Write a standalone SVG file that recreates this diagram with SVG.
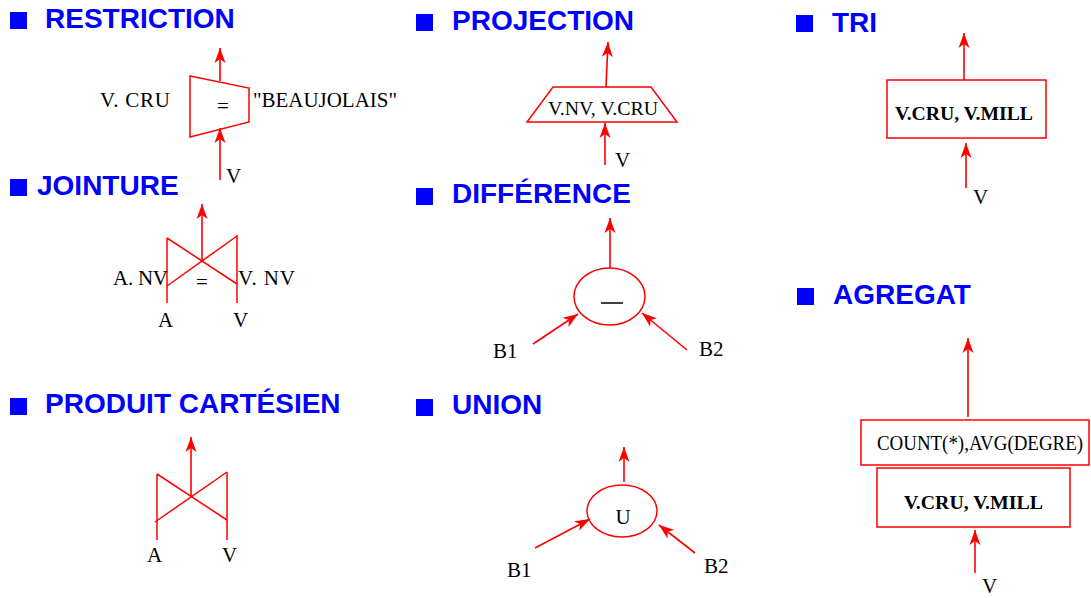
<svg xmlns="http://www.w3.org/2000/svg" width="1091" height="598" viewBox="0 0 1091 598">
<style>
.title{font-family:"Liberation Sans",Arial,sans-serif;font-weight:bold;font-size:28px;fill:#0000ff}
.bul{fill:#0000ff}
.lbl{font-family:"Liberation Serif","Times New Roman",serif;font-size:21px;fill:#000}
.sm{font-size:19px}
.bd{font-weight:bold;font-size:19.5px}
.shp{fill:none;stroke:#ff0000;stroke-width:1.5}
.con{fill:none;stroke:#ff0000;stroke-width:1.6;marker-end:url(#ah)}
</style>
<defs>
<marker id="ah" markerUnits="userSpaceOnUse" markerWidth="20" markerHeight="14" viewBox="-16 -7 18 14" refX="0" refY="0" orient="auto">
<path d="M0,0 L-15,-5.5 L-11,0 L-15,5.5 Z" fill="#ff0000"/>
</marker>
</defs>
<rect width="1091" height="598" fill="#fff"/>

<g id="titles">
<rect class="bul" x="10" y="12" width="17" height="17"/><text class="title" x="45" y="28">RESTRICTION</text>
<rect class="bul" x="10" y="179" width="17" height="17"/><text class="title" x="37" y="195">JOINTURE</text>
<rect class="bul" x="10" y="398" width="17" height="17"/><text class="title" x="45" y="413">PRODUIT CARTÉSIEN</text>
<rect class="bul" x="416" y="14" width="17" height="17"/><text class="title" x="452" y="30">PROJECTION</text>
<rect class="bul" x="416" y="188" width="17" height="17"/><text class="title" x="452" y="203">DIFFÉRENCE</text>
<rect class="bul" x="416" y="399" width="17" height="17"/><text class="title" x="452" y="414">UNION</text>
<rect class="bul" x="796" y="15" width="17" height="17"/><text class="title" x="832" y="32">TRI</text>
<rect class="bul" x="797" y="288" width="17" height="17"/><text class="title" x="833" y="304">AGREGAT</text>
</g>

<g id="restriction">
<polygon class="shp" points="190,76 249,88 249,122 190,137"/>
<text class="lbl" x="223" y="113" text-anchor="middle">=</text>
<text class="lbl" x="100" y="107" textLength="70" lengthAdjust="spacing">V. CRU</text>
<text class="lbl" x="253" y="107" textLength="144" lengthAdjust="spacingAndGlyphs">"BEAUJOLAIS"</text>
<text class="lbl" x="226" y="183">V</text>
</g>

<g id="jointure">
<line class="shp" x1="167" y1="238" x2="167" y2="303"/>
<line class="shp" x1="237" y1="235" x2="237" y2="303"/>
<line class="shp" x1="167" y1="238" x2="237" y2="284"/>
<line class="shp" x1="167" y1="286" x2="237" y2="236"/>
<text class="lbl" x="113" y="285" textLength="55" lengthAdjust="spacing">A. NV</text>
<text class="lbl" x="202" y="289" text-anchor="middle">=</text>
<text class="lbl" x="238" y="285" textLength="57" lengthAdjust="spacing">V. NV</text>
<text class="lbl" x="158" y="327">A</text>
<text class="lbl" x="233" y="327">V</text>
</g>

<g id="produit">
<line class="shp" x1="157" y1="474" x2="157" y2="540"/>
<line class="shp" x1="227" y1="472" x2="227" y2="540"/>
<line class="shp" x1="157" y1="474" x2="227" y2="520"/>
<line class="shp" x1="155" y1="522" x2="227" y2="472"/>
<text class="lbl" x="147" y="562">A</text>
<text class="lbl" x="222" y="562">V</text>
</g>

<g id="projection">
<polygon class="shp" points="553,87 651,87 677,122 527,122"/>
<text class="lbl sm" x="548" y="115" textLength="110" lengthAdjust="spacingAndGlyphs">V.NV, V.CRU</text>
<text class="lbl" x="615" y="167">V</text>
</g>

<g id="difference">
<ellipse class="shp" cx="609.5" cy="296.5" rx="35.5" ry="28.5"/>
<line x1="601" y1="303" x2="623" y2="303" stroke="#000" stroke-width="1.5"/>
<text class="lbl" x="493" y="358">B1</text>
<text class="lbl" x="699" y="356">B2</text>
</g>

<g id="union">
<ellipse class="shp" cx="622" cy="511" rx="35" ry="26"/>
<text class="lbl" x="623" y="524" text-anchor="middle">U</text>
<text class="lbl" x="507" y="577">B1</text>
<text class="lbl" x="704" y="573">B2</text>
</g>

<g id="tri">
<rect class="shp" x="887" y="80" width="159" height="58"/>
<text class="lbl bd" x="895" y="120" textLength="138" lengthAdjust="spacingAndGlyphs">V.CRU, V.MILL</text>
<text class="lbl" x="973" y="204">V</text>
</g>

<g id="agregat">
<rect class="shp" x="861" y="420" width="228" height="45"/>
<text class="lbl" x="877" y="450" font-size="18" textLength="206" lengthAdjust="spacingAndGlyphs">COUNT(*),AVG(DEGRE)</text>
<rect class="shp" x="877" y="468" width="193" height="59"/>
<text class="lbl bd" x="904" y="509" textLength="139" lengthAdjust="spacingAndGlyphs">V.CRU, V.MILL</text>
<text class="lbl" x="982" y="593">V</text>
</g>

<g id="connectors">
<line class="con" x1="220" y1="81" x2="220" y2="48"/>
<line class="con" x1="220" y1="180" x2="220" y2="128"/>
<line class="con" x1="202" y1="260" x2="202" y2="204"/>
<line class="con" x1="191" y1="496" x2="191" y2="437"/>
<line class="con" x1="606" y1="87" x2="608" y2="42"/>
<line class="con" x1="605" y1="165" x2="605" y2="123"/>
<line class="con" x1="610" y1="268" x2="610" y2="218"/>
<line class="con" x1="533" y1="344" x2="578" y2="314"/>
<line class="con" x1="687" y1="350" x2="642" y2="313"/>
<line class="con" x1="624" y1="482" x2="624" y2="447"/>
<line class="con" x1="535" y1="548" x2="590" y2="519"/>
<line class="con" x1="695" y1="553" x2="659" y2="525"/>
<line class="con" x1="964" y1="80" x2="964" y2="33"/>
<line class="con" x1="966" y1="188" x2="966" y2="143"/>
<line class="con" x1="968" y1="417" x2="968" y2="338"/>
<line class="con" x1="975" y1="573" x2="975" y2="530"/>
</g>
</svg>
